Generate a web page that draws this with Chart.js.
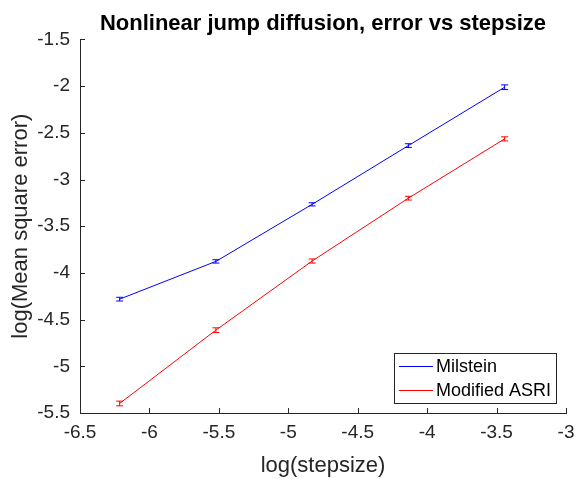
<!DOCTYPE html>
<html lang="en">
<head>
    <meta charset="UTF-8">
    <title>Nonlinear jump diffusion, error vs stepsize</title>
    <script src="https://cdn.jsdelivr.net/npm/chart.js"></script>
    <style>
        body {
            margin: 0;
            background: #ffffff;
        }
        canvas {
            display: block;
        }
    </style>
</head>
<body>
    <canvas id="errChart" width="577" height="479"></canvas>

    <script>
        // log(stepsize) for h = 0.002, 0.004, ..., 0.032
        const logStep = [-6.2146, -5.5215, -4.8283, -4.1352, -3.4420];

        const milstein = [-4.281, -3.877, -3.266, -2.637, -2.012];
        const milsteinErr = [0.020, 0.018, 0.017, 0.020, 0.025];

        const asri = [-5.398, -4.613, -3.873, -3.200, -2.565];
        const asriErr = [0.025, 0.025, 0.022, 0.020, 0.022];

        const seriesNames = ['Milstein', 'Modified ASRI'];
        const seriesColors = ['#0000ff', '#ff0000'];

        const axisColor = '#262626';
        const fontName = "'Liberation Sans', Arial, sans-serif";

        const toPoints = (ys) => ys.map((y, i) => ({ x: logStep[i], y: y }));
        const tickText = (v) => String(Math.round(v * 10) / 10);

        // error bars, drawn through the scales
        const errorBars = {
            id: 'errorBars',
            afterDatasetsDraw(chart) {
                const ctx = chart.ctx;
                const xs = chart.scales.x, ys = chart.scales.y;
                chart.data.datasets.forEach((ds) => {
                    ctx.save();
                    ctx.strokeStyle = ds.borderColor;
                    ctx.lineWidth = 1;
                    ds.data.forEach((p, i) => {
                        const e = ds.errors[i];
                        const px = xs.getPixelForValue(p.x);
                        const top = ys.getPixelForValue(p.y + e);
                        const bot = ys.getPixelForValue(p.y - e);
                        ctx.beginPath();
                        ctx.moveTo(px, top); ctx.lineTo(px, bot);
                        ctx.moveTo(px - 3.5, top); ctx.lineTo(px + 3.5, top);
                        ctx.moveTo(px - 3.5, bot); ctx.lineTo(px + 3.5, bot);
                        ctx.stroke();
                    });
                    ctx.restore();
                });
            }
        };

        // matlab style inward ticks
        const innerTicks = {
            id: 'innerTicks',
            afterDraw(chart) {
                const ctx = chart.ctx;
                const area = chart.chartArea;
                const xs = chart.scales.x, ys = chart.scales.y;
                ctx.save();
                ctx.strokeStyle = axisColor;
                ctx.lineWidth = 1;
                ctx.beginPath();
                xs.ticks.forEach(t => {
                    const px = Math.round(xs.getPixelForValue(t.value)) + 0.5;
                    ctx.moveTo(px, area.bottom);
                    ctx.lineTo(px, area.bottom - 5);
                });
                ys.ticks.forEach(t => {
                    const py = Math.round(ys.getPixelForValue(t.value)) + 0.5;
                    ctx.moveTo(area.left, py);
                    ctx.lineTo(area.left + 5, py);
                });
                ctx.stroke();
                ctx.restore();
            }
        };

        // legend box in the lower right corner of the axes
        const boxLegend = {
            id: 'boxLegend',
            afterDraw(chart) {
                const ctx = chart.ctx;
                const area = chart.chartArea;
                ctx.save();
                ctx.font = '18px ' + fontName;
                const textW = Math.max(...chart.data.datasets.map(ds => ctx.measureText(ds.label).width));
                const w = 5 + 34 + 3 + textW + 5;
                const h = 50;
                const x0 = area.right - 10 - w;
                const y0 = area.bottom - 10 - h;
                ctx.fillStyle = '#ffffff';
                ctx.fillRect(x0, y0, w, h);
                ctx.strokeStyle = axisColor;
                ctx.lineWidth = 1;
                ctx.strokeRect(Math.round(x0) + 0.5, Math.round(y0) + 0.5, Math.round(w), h);
                ctx.textBaseline = 'middle';
                chart.data.datasets.forEach((ds, i) => {
                    const y = y0 + 13 + i * 24;
                    ctx.strokeStyle = ds.borderColor;
                    ctx.beginPath();
                    ctx.moveTo(x0 + 5, y + 0.5);
                    ctx.lineTo(x0 + 39, y + 0.5);
                    ctx.stroke();
                    ctx.fillStyle = '#000000';
                    ctx.fillText(ds.label, x0 + 42, y + 1);
                });
                ctx.restore();
            }
        };

        const chart = new Chart(document.getElementById('errChart'), {
            type: 'line',
            data: {
                datasets: [
                    {
                        label: seriesNames[0],
                        data: toPoints(milstein),
                        errors: milsteinErr,
                        borderColor: seriesColors[0],
                        borderWidth: 1,
                        pointRadius: 0,
                        fill: false
                    },
                    {
                        label: seriesNames[1],
                        data: toPoints(asri),
                        errors: asriErr,
                        borderColor: seriesColors[1],
                        borderWidth: 1,
                        pointRadius: 0,
                        fill: false
                    }
                ]
            },
            options: {
                responsive: false,
                animation: false,
                layout: {
                    padding: { left: 0, right: 11, top: 0, bottom: 0 }
                },
                plugins: {
                    legend: { display: false },
                    tooltip: { enabled: false },
                    title: {
                        display: true,
                        text: 'Nonlinear jump diffusion, error vs stepsize',
                        color: '#000000',
                        fullSize: false,
                        font: { family: fontName, size: 22, weight: 'bold' },
                        padding: { top: 11, bottom: 2 }
                    }
                },
                scales: {
                    x: {
                        type: 'linear',
                        min: -6.5,
                        max: -3,
                        afterFit: (s) => {
                            s.height = 66;
                            s.paddingLeft = 0;
                            s.paddingRight = 0;
                        },
                        ticks: {
                            stepSize: 0.5,
                            color: axisColor,
                            padding: 8,
                            maxRotation: 0,
                            font: { family: fontName, size: 19 },
                            callback: tickText
                        },
                        grid: { drawOnChartArea: false, drawTicks: false },
                        border: { color: axisColor, width: 1 },
                        title: {
                            display: true,
                            text: 'log(stepsize)',
                            color: axisColor,
                            font: { family: fontName, size: 22 },
                            padding: { top: 0, bottom: 0 }
                        }
                    },
                    y: {
                        min: -5.5,
                        max: -1.5,
                        afterFit: (s) => { s.width = 80; },
                        ticks: {
                            stepSize: 0.5,
                            color: axisColor,
                            padding: 10,
                            font: { family: fontName, size: 19 },
                            callback: tickText
                        },
                        grid: { drawOnChartArea: false, drawTicks: false },
                        border: { color: axisColor, width: 1 },
                        title: {
                            display: true,
                            text: 'log(Mean square error)',
                            color: axisColor,
                            font: { family: fontName, size: 22 },
                            padding: { top: 8, bottom: 0 }
                        }
                    }
                }
            },
            plugins: [errorBars, innerTicks, boxLegend]
        });
    </script>
</body>
</html>
